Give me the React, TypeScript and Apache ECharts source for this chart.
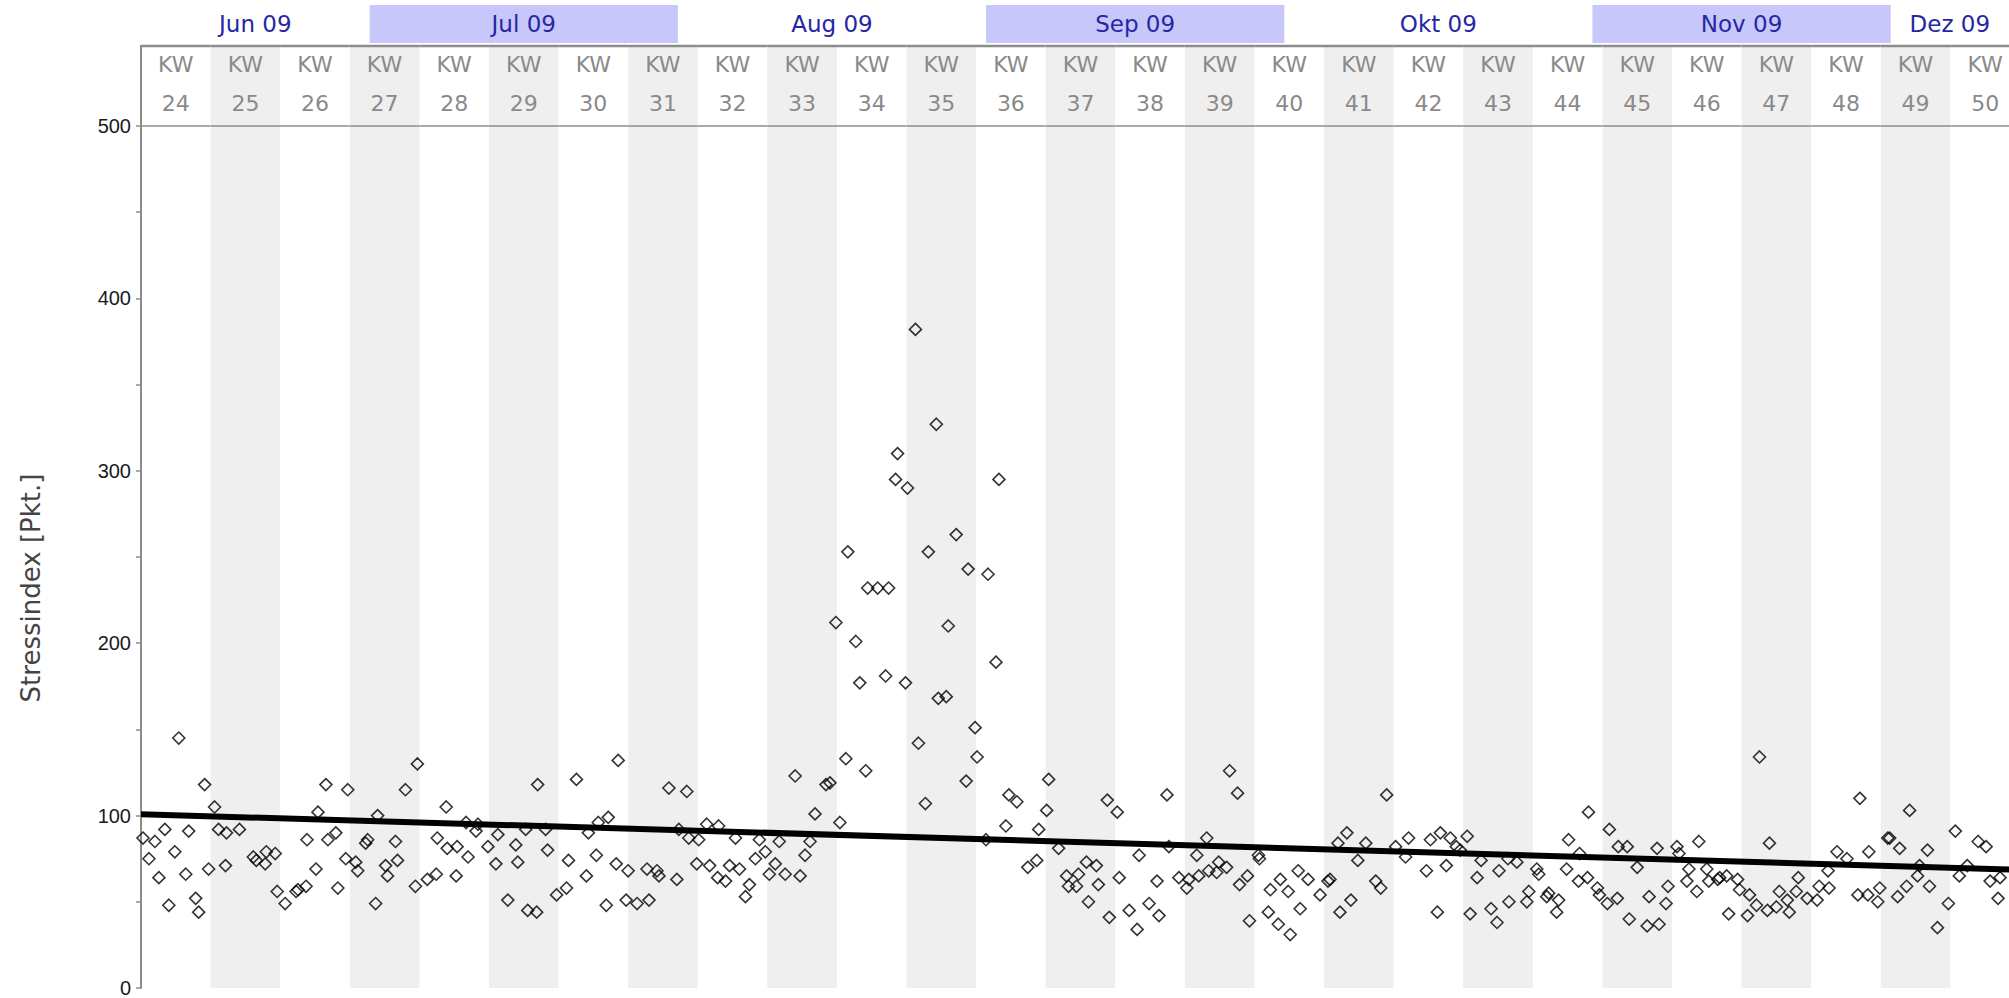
import { useEffect, useRef } from "react";
import * as echarts from "echarts";

// Calendar weeks shown in the header (KW 24 starts Monday 8 June 2009 = day 0)
const weekNumbers = [24, 25, 26, 27, 28, 29, 30, 31, 32, 33, 34, 35, 36, 37, 38, 39, 40, 41, 42, 43, 44, 45, 46, 47, 48, 49, 50];
const monthLabels = ["Jun 09", "Jul 09", "Aug 09", "Sep 09", "Okt 09", "Nov 09", "Dez 09"];
// month start, in days after 8 June 2009 (last entry = end of December)
const monthStartDays = [-7, 23, 54, 85, 115, 146, 176, 207];

// Stress index samples: [day after 8 June 2009, value]
const pointsJun: [number, number][] = [
  [0.2, 87], [0.8, 75], [1.4, 85], [1.8, 64], [2.4, 92], [2.8, 48], [3.4, 79], [3.8, 145], [4.5, 66], [4.8, 91],
  [5.5, 52], [5.8, 44], [6.4, 118], [6.8, 69], [7.4, 105], [7.8, 92], [8.5, 71], [8.6, 90], [9.9, 92], [11.3, 76],
  [11.6, 74], [12.5, 72], [12.6, 79], [13.5, 78], [13.7, 56], [14.5, 49], [15.6, 56], [15.8, 57], [16.6, 59], [16.7, 86],
  [17.6, 69], [17.8, 102], [18.6, 118], [18.8, 86], [19.6, 90], [19.8, 58], [20.6, 75], [20.8, 115], [21.6, 73], [21.8, 68],
  [22.6, 84], [22.8, 86],
];
const pointsJul: [number, number][] = [
  [23.6, 49], [23.8, 100], [24.6, 71], [24.8, 65], [25.6, 85], [25.8, 74], [26.6, 115], [27.6, 59], [27.8, 130], [28.8, 63],
  [29.7, 66], [29.8, 87], [30.7, 105], [30.8, 81], [31.7, 65], [31.8, 82], [32.7, 96], [32.9, 76], [33.7, 91], [33.9, 95],
  [34.9, 82], [35.7, 72], [35.9, 89], [36.9, 51], [37.7, 83], [37.9, 73], [38.7, 92], [38.9, 45], [39.8, 44], [39.9, 118],
  [40.7, 92], [40.9, 80], [41.8, 54], [42.8, 58], [43.0, 74], [43.8, 121], [44.8, 65], [45.0, 90], [45.8, 77], [46.0, 96],
  [46.8, 48], [47.0, 99], [47.8, 72], [48.0, 132], [48.8, 51], [49.0, 68], [49.9, 49], [50.9, 69], [51.1, 51], [51.9, 68],
  [52.1, 65], [53.1, 116],
];
const pointsAug: [number, number][] = [
  [53.9, 63], [54.1, 92], [54.9, 114], [55.1, 87], [55.9, 72], [56.1, 86], [56.9, 95], [57.2, 71], [58.0, 64], [58.1, 94],
  [58.8, 62], [59.2, 71], [59.8, 87], [60.2, 69], [60.8, 53], [61.2, 60], [61.8, 75], [62.2, 86], [62.8, 79], [63.2, 66],
  [63.8, 72], [64.2, 85], [64.8, 66], [65.8, 123], [66.3, 65], [66.8, 77], [67.3, 85], [67.8, 101], [68.9, 118], [69.3, 119],
  [69.9, 212], [70.3, 96], [70.9, 133], [71.1, 253], [71.9, 201], [72.3, 177], [72.9, 126], [73.1, 232], [74.1, 232], [74.9, 181],
  [75.2, 232], [75.9, 295], [76.1, 310], [76.9, 177], [77.1, 290], [77.9, 382], [78.2, 142], [78.9, 107], [79.2, 253], [80.0, 327],
  [80.2, 168], [81.0, 169], [81.2, 210], [82.0, 263], [83.0, 120], [83.2, 243], [83.9, 151], [84.1, 134],
];
const pointsSep: [number, number][] = [
  [85.0, 86], [85.2, 240], [86.0, 189], [86.3, 295], [87.0, 94], [87.3, 112], [88.1, 108], [89.2, 70], [90.1, 74], [90.3, 92],
  [91.1, 103], [91.3, 121], [92.3, 81], [93.1, 65], [93.3, 59], [94.1, 59], [94.3, 66], [95.1, 73], [95.3, 50], [96.1, 71],
  [96.3, 60], [97.2, 109], [97.4, 41], [98.2, 102], [98.4, 64], [99.4, 45], [100.2, 34], [100.4, 77], [101.4, 49], [102.2, 62],
  [102.4, 42], [103.2, 112], [103.4, 82], [104.4, 64], [105.2, 58], [105.4, 63], [106.2, 77], [106.4, 65], [107.2, 87], [107.4, 68],
  [108.2, 67], [108.4, 73], [109.2, 70], [109.5, 126], [110.3, 113], [110.5, 60], [111.3, 65], [111.5, 39], [112.4, 77], [112.5, 75],
  [113.4, 44], [113.6, 57], [114.4, 37], [114.6, 63],
];
const pointsOkt: [number, number][] = [
  [115.4, 56], [115.6, 31], [116.4, 68], [116.6, 46], [117.4, 63], [118.6, 54], [119.4, 62], [119.6, 63], [120.4, 84], [120.6, 44],
  [121.3, 90], [121.7, 51], [122.4, 74], [123.2, 84], [124.2, 62], [124.7, 58], [125.3, 112], [126.2, 82], [127.2, 76], [127.5, 87],
  [129.3, 68], [129.7, 86], [130.4, 44], [130.7, 90], [131.3, 71], [131.7, 87], [132.3, 82], [132.7, 80], [133.4, 88], [133.7, 43],
  [134.4, 64], [134.8, 74], [135.8, 46], [136.4, 38], [136.6, 68], [137.5, 75], [137.6, 50], [138.4, 73], [139.4, 50], [139.6, 56],
  [140.4, 69], [140.6, 66], [141.4, 53], [141.6, 55], [142.4, 44], [142.6, 51], [143.4, 69], [143.6, 86], [144.6, 62], [144.7, 78],
  [145.5, 64], [145.6, 102],
];
const pointsNov: [number, number][] = [
  [146.5, 58], [146.7, 54], [147.5, 49], [147.7, 92], [148.5, 52], [148.6, 82], [149.5, 82], [149.7, 40], [150.5, 70], [151.5, 36],
  [151.7, 53], [152.5, 81], [152.7, 37], [153.4, 49], [153.6, 59], [154.5, 82], [154.7, 78], [155.5, 62], [155.7, 69], [156.5, 56],
  [156.7, 85], [157.5, 69], [157.7, 62], [158.6, 63], [158.8, 64], [159.5, 65], [159.7, 43], [160.6, 63], [160.8, 57], [161.6, 42],
  [161.8, 54], [162.5, 48], [162.8, 134], [163.6, 45], [163.8, 84], [164.5, 47], [164.8, 56], [165.6, 51], [165.8, 44], [166.5, 56],
  [166.7, 64], [167.6, 52], [168.6, 51], [168.8, 59], [169.7, 68], [169.8, 58], [170.6, 79], [171.6, 75], [172.7, 54], [172.9, 110],
  [173.7, 54], [173.8, 79], [174.7, 50], [174.9, 58], [175.7, 87], [175.9, 87],
];
const pointsDez: [number, number][] = [
  [176.7, 53], [176.9, 81], [177.6, 59], [177.9, 103], [178.7, 65], [178.9, 71], [179.7, 80], [179.9, 59], [180.7, 35], [181.8, 49],
  [182.5, 91], [182.9, 65], [183.7, 71], [184.8, 85], [185.6, 82], [186.0, 62], [186.8, 52], [187.0, 64],
];

// Linear trend (start of KW 24 -> end of KW 50)
const trendDays = [0, 189];
const trendValues = [100.8, 68.5];

const yTicks = { min: 0, max: 500, step: 50 };
const X_MAX = 187.9; // visible range ends inside KW 50

export default function App() {
  const ref = useRef<HTMLDivElement>(null);

  useEffect(() => {
    if (!ref.current) return;
    const chart = echarts.init(ref.current, undefined, { renderer: "svg" });
    const allPoints = [
      ...pointsJun, ...pointsJul, ...pointsAug, ...pointsSep, ...pointsOkt, ...pointsNov, ...pointsDez,
    ];

    const weekData = weekNumbers.map((w, i) => [i * 7, i * 7 + 7, w, i % 2]);
    const monthData = monthLabels.map((_, i) => [monthStartDays[i], monthStartDays[i + 1], i % 2]);

    const option: any = {
      animation: false,
      backgroundColor: "#ffffff",
      grid: { left: 141, right: 0, top: 126, bottom: 10, containLabel: false },
      graphic: [
        {
          type: "text",
          x: 31,
          y: 588,
          rotation: Math.PI / 2,
          silent: true,
          style: {
            text: "Stressindex [Pkt.]",
            font: "26px 'DejaVu Sans'",
            fill: "#444444",
            align: "center",
            verticalAlign: "middle",
          },
        },
      ],
      xAxis: {
        type: "value",
        min: 0,
        max: X_MAX,
        show: false,
      },
      yAxis: {
        type: "value",
        min: yTicks.min,
        max: yTicks.max,
        interval: yTicks.step,
        axisLine: { show: true, lineStyle: { color: "#8c8c8c", width: 2 } },
        axisTick: { show: true, length: 5, lineStyle: { color: "#8c8c8c", width: 1.5 } },
        axisLabel: {
          formatter: (v: number) => (v % 100 === 0 ? String(v) : ""),
          fontFamily: "Liberation Sans",
          fontSize: 20,
          color: "#1a1a1a",
          margin: 10,
        },
        splitLine: { show: false },
      },
      series: [
        {
          type: "custom",
          name: "weeks",
          coordinateSystem: "cartesian2d",
          clip: false,
          silent: true,
          z: 1,
          data: weekData,
          encode: { x: [0, 1], y: -1 },
          renderItem: (params: any, api: any) => {
            const s = api.value(0);
            const e = api.value(1);
            const w = api.value(2);
            const odd = api.value(3);
            const cs = params.coordSys;
            const pTop = api.coord([s, yTicks.max]);
            const pBot = api.coord([e, yTicks.min]);
            const xs = pTop[0];
            const xe = pBot[0];
            const x0 = Math.max(xs, cs.x);
            const x1 = Math.min(xe, cs.x + cs.width + 40);
            const top = pTop[1];
            const bottom = pBot[1];
            const xc = (xs + xe) / 2;
            const children: any[] = [];
            if (odd) {
              children.push({
                type: "rect",
                shape: { x: x0, y: top - 80, width: x1 - x0, height: bottom - top + 80 },
                style: { fill: "#efefef" },
              });
            }
            children.push({
              type: "line",
              shape: { x1: x0, y1: top - 80, x2: x1, y2: top - 80 },
              style: { stroke: "#8c8c8c", lineWidth: 2.5 },
            });
            children.push({
              type: "line",
              shape: { x1: x0, y1: top, x2: x1, y2: top },
              style: { stroke: "#8c8c8c", lineWidth: 1.5 },
            });
            if (params.dataIndex === 0) {
              children.push({
                type: "line",
                shape: { x1: x0, y1: top - 81, x2: x0, y2: top },
                style: { stroke: "#8c8c8c", lineWidth: 2 },
              });
            }
            children.push({
              type: "text",
              x: xc,
              y: top - 62,
              style: {
                text: "KW",
                fill: "#8a8a8a",
                font: "22px 'DejaVu Sans'",
                align: "center",
                verticalAlign: "middle",
              },
            });
            children.push({
              type: "text",
              x: xc,
              y: top - 23,
              style: {
                text: String(w),
                fill: "#8a8a8a",
                font: "22px 'DejaVu Sans'",
                align: "center",
                verticalAlign: "middle",
              },
            });
            return { type: "group", children };
          },
        },
        {
          type: "custom",
          name: "months",
          coordinateSystem: "cartesian2d",
          clip: false,
          silent: true,
          z: 1,
          data: monthData,
          encode: { x: [0, 1], y: -1 },
          renderItem: (params: any, api: any) => {
            const cs = params.coordSys;
            const s = Math.max(api.value(0), 0);
            const e = Math.min(api.value(1), X_MAX);
            const odd = api.value(2);
            const pS = api.coord([s, yTicks.max]);
            const pE = api.coord([e, yTicks.max]);
            const top = pS[1];
            const x0 = Math.max(pS[0], cs.x);
            const x1 = Math.min(pE[0], cs.x + cs.width);
            const children: any[] = [];
            if (odd) {
              children.push({
                type: "rect",
                shape: { x: x0, y: top - 121, width: x1 - x0, height: 38 },
                style: { fill: "#c7c7f9" },
              });
            }
            children.push({
              type: "text",
              x: (x0 + x1) / 2,
              y: top - 102,
              style: {
                text: monthLabels[params.dataIndex],
                fill: "#2626a6",
                font: "23px 'DejaVu Sans'",
                align: "center",
                verticalAlign: "middle",
              },
            });
            return { type: "group", children };
          },
        },
        {
          type: "scatter",
          name: "Stressindex",
          z: 3,
          symbol: "diamond",
          symbolSize: 12,
          itemStyle: { color: "rgba(0,0,0,0)", borderColor: "#000000", borderWidth: 1.6 },
          data: allPoints,
        },
        {
          type: "line",
          name: "Trend",
          z: 4,
          showSymbol: false,
          symbol: "none",
          lineStyle: { color: "#000000", width: 6 },
          data: trendDays.map((d, i) => [d, trendValues[i]]),
        },
      ],
    };

    chart.setOption(option);
    return () => chart.dispose();
  }, []);

  return (
    <div
      ref={ref}
      style={{ position: "fixed", left: 0, top: 0, width: 2009, height: 998, background: "#fff" }}
    />
  );
}
